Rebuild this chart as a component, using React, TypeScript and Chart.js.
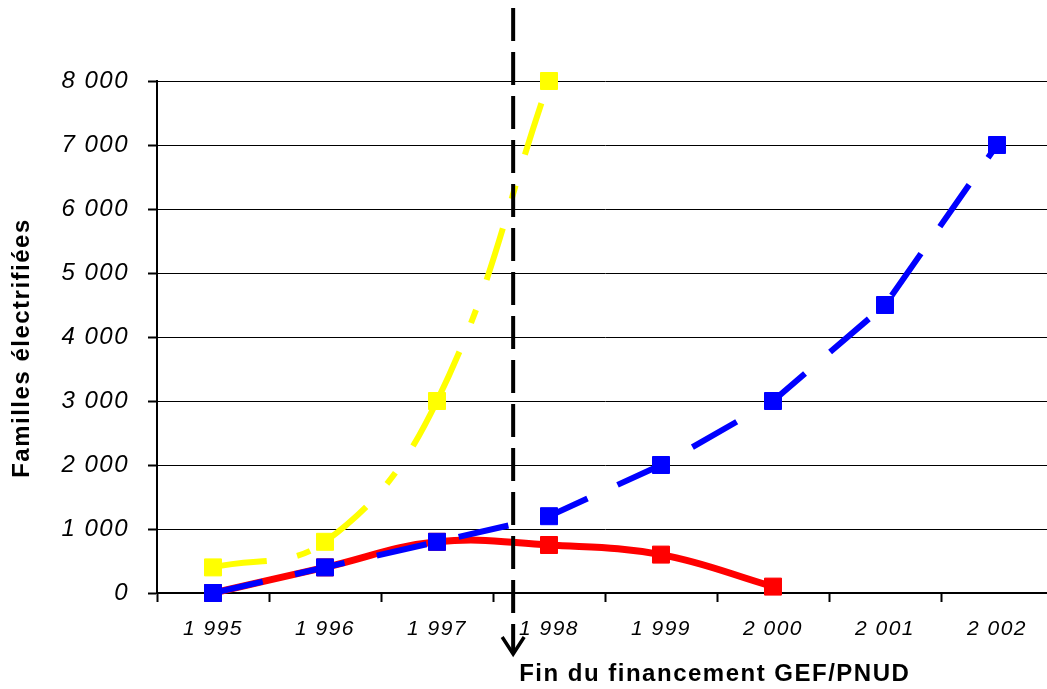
import React, { useEffect, useRef } from "react";
import { Chart, registerables } from "chart.js";

Chart.register(...registerables);

const years = ["1 995", "1 996", "1 997", "1 998", "1 999", "2 000", "2 001", "2 002"];
const redValues = [0, 400, 800, 750, 600, 100, null, null];
const blueValues = [0, 400, 800, 1200, 2000, 3000, 4500, 7000];
const yellowValues = [400, 800, 3000, 8000, null, null, null, null];
const yTicks = [0, 1000, 2000, 3000, 4000, 5000, 6000, 7000, 8000];
const yTitle = "Familles électrifiées";
const markerText = "Fin du financement GEF/PNUD";
const markerPosition = 2.68; // between 1997 and 1998

const FONT = '"Liberation Sans", Arial, sans-serif';
const SPACING = "1.5px";

const overlayPlugin = {
  id: "overlay",
  beforeDraw(chart: any) {
    (chart.ctx as any).letterSpacing = SPACING;
  },
  afterDraw(chart: any) {
    const ctx = chart.ctx;
    const xs = chart.scales.x;
    const i0 = Math.floor(markerPosition);
    const p0 = xs.getPixelForValue(i0);
    const p1 = xs.getPixelForValue(i0 + 1);
    const x = p0 + (markerPosition - i0) * (p1 - p0);
    ctx.save();
    // vertical dashed line
    ctx.strokeStyle = "#000";
    ctx.lineWidth = 4;
    ctx.setLineDash([33, 11]);
    ctx.beginPath();
    ctx.moveTo(x, 8);
    ctx.lineTo(x, 652);
    ctx.stroke();
    // arrow head
    ctx.setLineDash([]);
    ctx.lineWidth = 3.5;
    ctx.beginPath();
    ctx.moveTo(x - 11, 637);
    ctx.lineTo(x, 654);
    ctx.lineTo(x + 11, 637);
    ctx.stroke();
    // bottom text
    (ctx as any).letterSpacing = SPACING;
    ctx.fillStyle = "#000";
    ctx.font = `bold 24px ${FONT}`;
    ctx.textAlign = "left";
    ctx.textBaseline = "alphabetic";
    ctx.fillText(markerText, x + 6, 681);
    // y title
    ctx.translate(29, 348);
    ctx.rotate(-Math.PI / 2);
    ctx.font = `bold 24px ${FONT}`;
    ctx.textAlign = "center";
    ctx.fillText(yTitle, 0, 0);
    ctx.restore();
    (ctx as any).letterSpacing = "0px";
  },
};

export default function App() {
  const ref = useRef<HTMLCanvasElement>(null);

  useEffect(() => {
    document.body.style.margin = "0";
    document.body.style.overflow = "hidden";
    const canvas = ref.current!;
    const chart = new Chart(canvas, {
      type: "line",
      data: {
        labels: years,
        datasets: [
          {
            label: "blue",
            data: blueValues,
            borderColor: "#0000FF",
            backgroundColor: "#0000FF",
            borderWidth: 6,
            borderDash: [51, 33],
            tension: 0,
            pointStyle: "rect",
            pointRadius: 12,
            pointBorderWidth: 1,
            pointBackgroundColor: "#0000FF",
            pointBorderColor: "#0000FF",
            clip: false,
            order: 0,
          } as any,
          {
            label: "red",
            data: redValues,
            borderColor: "#FF0000",
            backgroundColor: "#FF0000",
            borderWidth: 7,
            tension: 0.4,
            pointStyle: "rect",
            pointRadius: 12,
            pointBorderWidth: 1,
            pointBackgroundColor: "#FF0000",
            pointBorderColor: "#FF0000",
            clip: false,
            order: 1,
          } as any,
          {
            label: "yellow",
            data: yellowValues,
            borderColor: "#FFFF00",
            backgroundColor: "#FFFF00",
            borderWidth: 6,
            borderDash: [54, 31, 14, 32],
            tension: 0.4,
            pointStyle: "rect",
            pointRadius: 12,
            pointBorderWidth: 1,
            pointBackgroundColor: "#FFFF00",
            pointBorderColor: "#FFFF00",
            clip: false,
            order: 2,
            segment: {
              borderDashOffset: (c: any) => (c.p0DataIndex % 2 ? 0.001 : 0),
            },
          } as any,
        ],
      },
      options: {
        responsive: false,
        animation: false,
        layout: { autoPadding: false, padding: { top: 81, left: 0, right: 0, bottom: 0 } },
        plugins: {
          legend: { display: false },
          tooltip: { enabled: false },
          title: { display: false },
        },
        scales: {
          x: {
            type: "category",
            offset: true,
            grid: {
              offset: true,
              drawOnChartArea: false,
              drawTicks: true,
              tickLength: 9,
              tickColor: "#000",
              tickWidth: 2,
            },
            border: { display: true, color: "#000", width: 2 },
            ticks: {
              color: "#000",
              font: { family: FONT, size: 21, style: "italic" },
              padding: 15,
              maxRotation: 0,
              autoSkip: false,
            },
            afterFit: (s: any) => {
              s.height = 96;
              s.paddingLeft = 0;
              s.paddingRight = 0;
            },
          },
          y: {
            min: 0,
            max: 8000,
            afterBuildTicks: (s: any) => {
              s.ticks = yTicks.map((v) => ({ value: v }));
            },
            grid: {
              color: "#000",
              lineWidth: 1,
              drawTicks: true,
              tickLength: 9,
              tickColor: "#000",
              tickWidth: 2,
            },
            border: { display: true, color: "#000", width: 2 },
            ticks: {
              color: "#000",
              font: { family: FONT, size: 24, style: "italic" },
              padding: 19,
              callback: (v: any) => (v === 0 ? "0" : `${Number(v) / 1000} 000`),
            },
            afterFit: (s: any) => {
              s.width = 157;
              s.paddingTop = 0;
              s.paddingBottom = 0;
            },
          },
        },
      } as any,
      plugins: [overlayPlugin],
    });
    return () => chart.destroy();
  }, []);

  return (
    <div
      style={{
        position: "absolute",
        left: 0,
        top: 0,
        width: 1047,
        height: 689,
        overflow: "hidden",
        background: "#fff",
      }}
    >
      <canvas ref={ref} width={1053} height={689} style={{ width: 1053, height: 689, display: "block" }} />
    </div>
  );
}
